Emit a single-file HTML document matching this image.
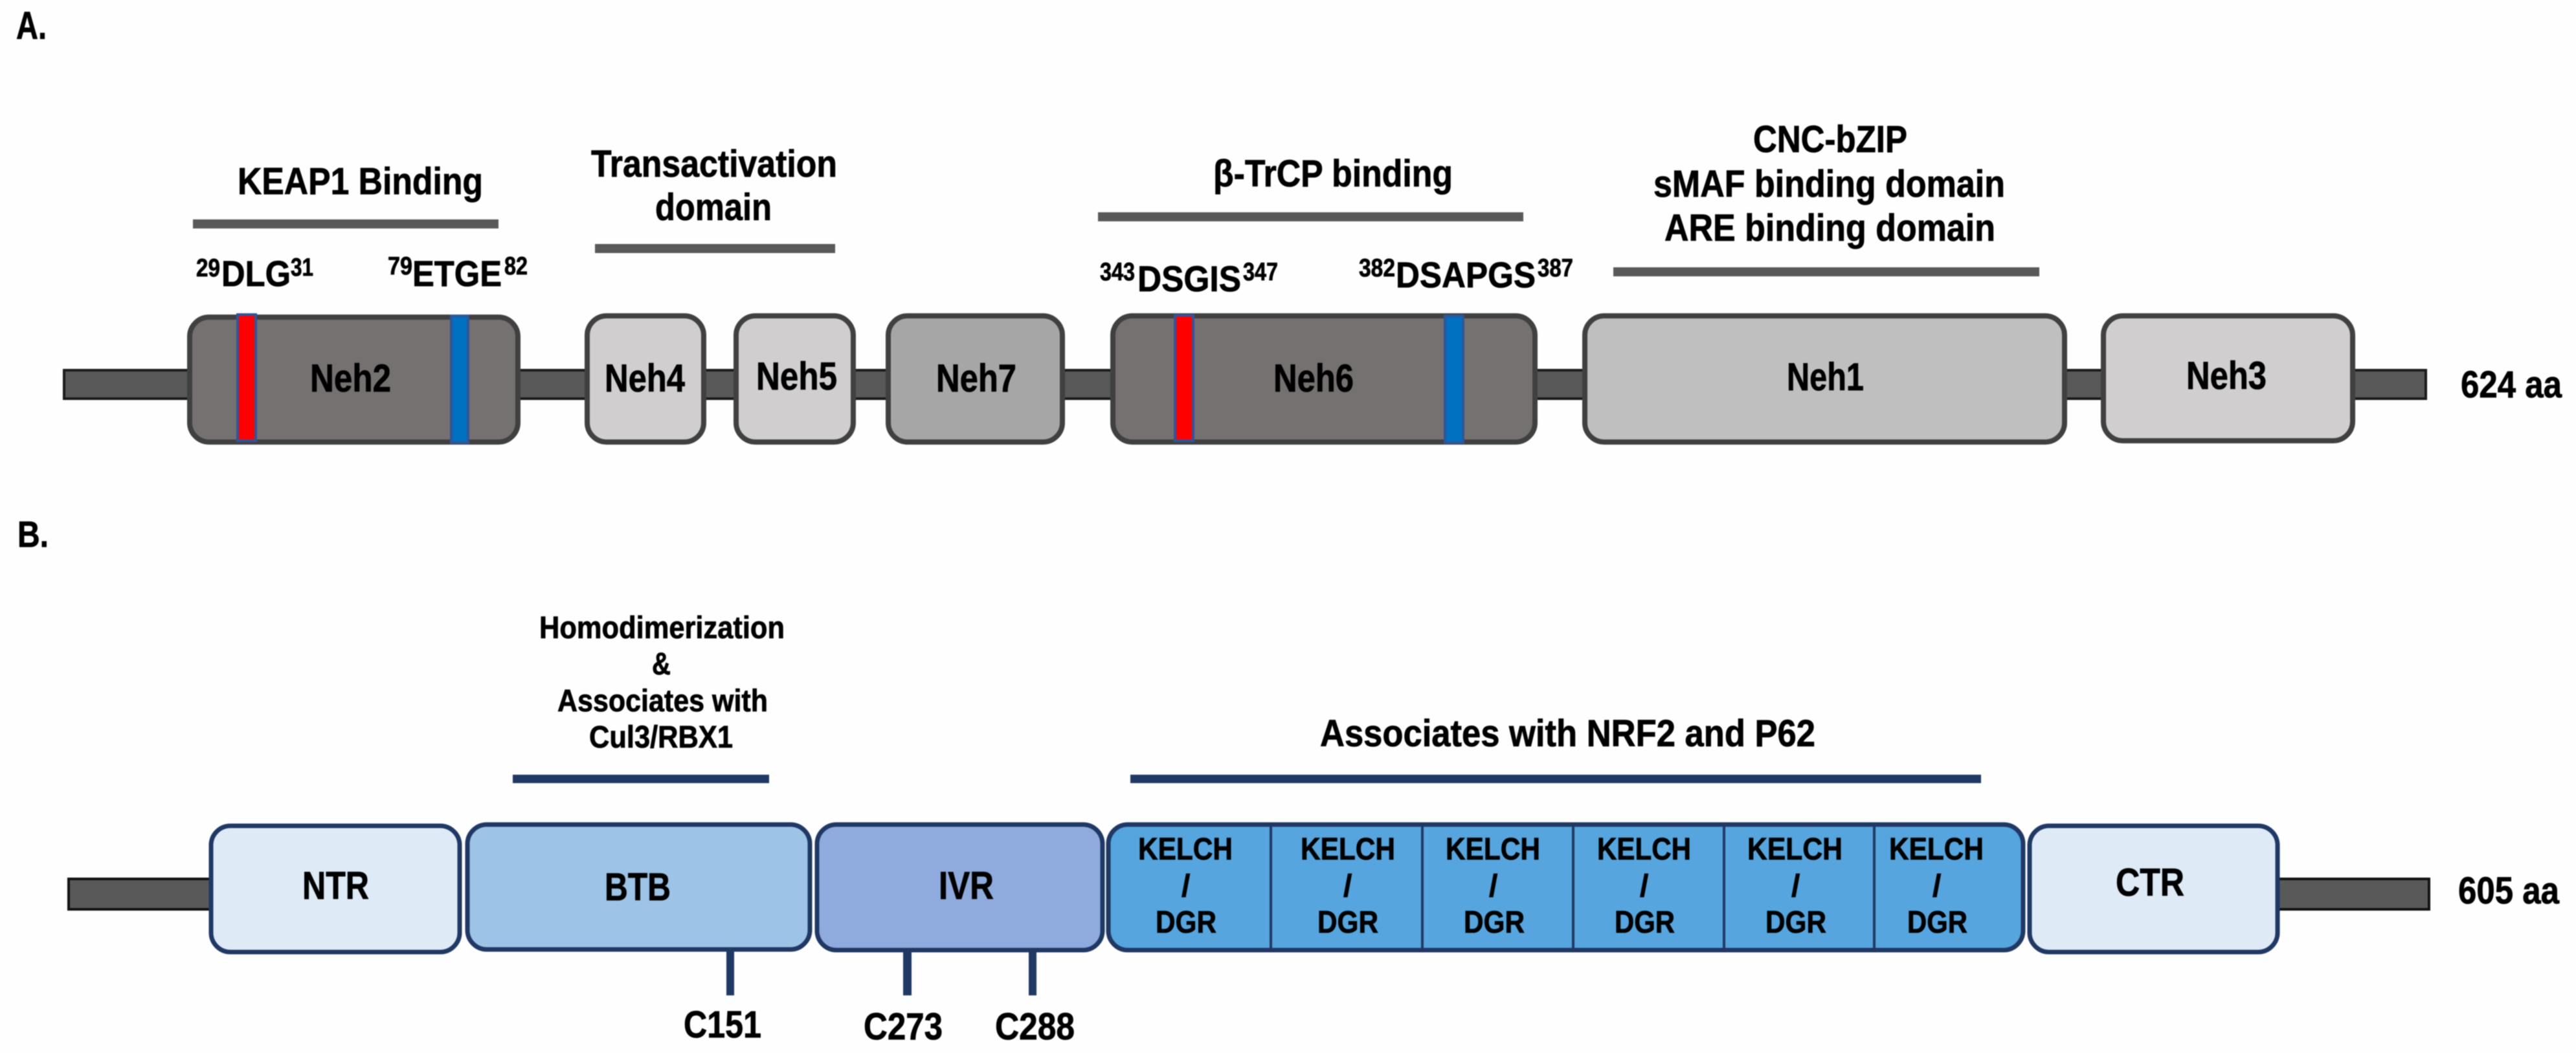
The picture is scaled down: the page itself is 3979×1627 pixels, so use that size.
<!DOCTYPE html>
<html lang="en">
<head>
<meta charset="utf-8">
<title>NRF2 and KEAP1 domains</title>
<style>
html,body{margin:0;padding:0;background:#fefefe;width:3979px;height:1627px;overflow:hidden}
svg{display:block;filter:blur(.8px)}
text{font-family:"Liberation Sans",Arial,sans-serif;font-weight:bold;fill:#000;stroke:#000;stroke-width:.8px}
.a{stroke:#404040;stroke-width:8}
.b{stroke:#203864;stroke-width:7}
.m{stroke:#2f5597;stroke-width:4}
</style>
</head>
<body>
<svg xmlns="http://www.w3.org/2000/svg" width="3979" height="1627" viewBox="0 0 3979 1627">
<rect width="3979" height="1627" fill="#fefefe"/>

<!-- Panel A -->
<text x="25" y="60" font-size="60" textLength="47" lengthAdjust="spacingAndGlyphs">A.</text>
<rect x="99" y="572" width="3648" height="44" fill="#595959" stroke="#1a1a1a" stroke-width="4"/>

<rect x="293" y="490" width="507" height="193" rx="30" fill="#767171" class="a"/>
<rect x="367" y="486" width="28" height="195" fill="#ff0000" class="m"/>
<rect x="697" y="488" width="26" height="196" fill="#0070c0" class="m"/>
<rect x="907" y="488" width="180" height="195" rx="30" fill="#d0cece" class="a"/>
<rect x="1137" y="488" width="181" height="195" rx="30" fill="#d0cece" class="a"/>
<rect x="1372" y="488" width="269" height="195" rx="30" fill="#a6a6a6" class="a"/>
<rect x="1719" y="488" width="652" height="195" rx="30" fill="#767171" class="a"/>
<rect x="1815" y="487" width="28" height="194" fill="#ff0000" class="m"/>
<rect x="2232" y="488" width="28" height="196" fill="#0070c0" class="m"/>
<rect x="2448" y="488" width="741" height="195" rx="30" fill="#bfbfbf" class="a"/>
<rect x="3249" y="488" width="385" height="193" rx="30" fill="#d0cece" class="a"/>

<text x="479" y="605" font-size="60" textLength="125" lengthAdjust="spacingAndGlyphs">Neh2</text>
<text x="934" y="605" font-size="60" textLength="124" lengthAdjust="spacingAndGlyphs">Neh4</text>
<text x="1168" y="602" font-size="60" textLength="125" lengthAdjust="spacingAndGlyphs">Neh5</text>
<text x="1446" y="605" font-size="60" textLength="124" lengthAdjust="spacingAndGlyphs">Neh7</text>
<text x="1967" y="605" font-size="60" textLength="124" lengthAdjust="spacingAndGlyphs">Neh6</text>
<text x="2760" y="603" font-size="60" textLength="119" lengthAdjust="spacingAndGlyphs">Neh1</text>
<text x="3377" y="601" font-size="60" textLength="124" lengthAdjust="spacingAndGlyphs">Neh3</text>
<text x="3801" y="614" font-size="58" textLength="156" lengthAdjust="spacingAndGlyphs">624 aa</text>

<text x="367" y="300" font-size="58" textLength="379" lengthAdjust="spacingAndGlyphs">KEAP1 Binding</text>
<rect x="298" y="339" width="472" height="14" fill="#595959"/>
<text x="913" y="273" font-size="58" textLength="380" lengthAdjust="spacingAndGlyphs">Transactivation</text>
<text x="1012" y="340" font-size="58" textLength="180" lengthAdjust="spacingAndGlyphs">domain</text>
<rect x="919" y="377" width="371" height="14" fill="#595959"/>

<text x="303" y="427" font-size="39" textLength="37" lengthAdjust="spacingAndGlyphs">29</text>
<text x="342" y="442" font-size="56" textLength="107" lengthAdjust="spacingAndGlyphs">DLG</text>
<text x="449" y="426" font-size="39" textLength="35" lengthAdjust="spacingAndGlyphs">31</text>
<text x="599" y="424" font-size="39" textLength="38" lengthAdjust="spacingAndGlyphs">79</text>
<text x="637" y="442" font-size="56" textLength="138" lengthAdjust="spacingAndGlyphs">ETGE</text>
<text x="779" y="424" font-size="39" textLength="36" lengthAdjust="spacingAndGlyphs">82</text>

<text x="1874" y="288" font-size="58" textLength="370" lengthAdjust="spacingAndGlyphs">β-TrCP binding</text>
<rect x="1696" y="328" width="657" height="14" fill="#595959"/>
<text x="1699" y="433" font-size="39" textLength="54" lengthAdjust="spacingAndGlyphs">343</text>
<text x="1757" y="450" font-size="56" textLength="160" lengthAdjust="spacingAndGlyphs">DSGIS</text>
<text x="1920" y="433" font-size="39" textLength="54" lengthAdjust="spacingAndGlyphs">347</text>
<text x="2099" y="427" font-size="39" textLength="56" lengthAdjust="spacingAndGlyphs">382</text>
<text x="2156" y="444" font-size="56" textLength="216" lengthAdjust="spacingAndGlyphs">DSAPGS</text>
<text x="2375" y="427" font-size="39" textLength="55" lengthAdjust="spacingAndGlyphs">387</text>

<text x="2708" y="235" font-size="58" textLength="238" lengthAdjust="spacingAndGlyphs">CNC-bZIP</text>
<text x="2554" y="304" font-size="58" textLength="543" lengthAdjust="spacingAndGlyphs">sMAF binding domain</text>
<text x="2571" y="372" font-size="58" textLength="511" lengthAdjust="spacingAndGlyphs">ARE binding domain</text>
<rect x="2492" y="413" width="658" height="14" fill="#595959"/>

<!-- Panel B -->
<text x="27" y="845" font-size="57" textLength="48" lengthAdjust="spacingAndGlyphs">B.</text>
<rect x="106" y="1358" width="225" height="47" fill="#595959" stroke="#111" stroke-width="4"/>
<rect x="3510" y="1358" width="242" height="47" fill="#595959" stroke="#111" stroke-width="4"/>

<rect x="1122" y="1466" width="12" height="72" fill="#203864"/>
<rect x="1395" y="1466" width="13" height="72" fill="#203864"/>
<rect x="1589" y="1466" width="12" height="72" fill="#203864"/>

<rect x="326" y="1276" width="384" height="195" rx="30" fill="#deebf7" class="b"/>
<rect x="722" y="1274" width="529" height="193" rx="30" fill="#9dc3e6" class="b"/>
<rect x="1262" y="1274" width="441" height="194" rx="30" fill="#8faadc" class="b"/>
<rect x="1712" y="1274" width="1413" height="194" rx="30" fill="#56a5de" class="b"/>
<rect x="3135" y="1276" width="383" height="195" rx="30" fill="#deebf7" class="b"/>
<g fill="#203864">
<rect x="1961" y="1274" width="4" height="194"/>
<rect x="2195" y="1274" width="4" height="194"/>
<rect x="2428" y="1274" width="4" height="194"/>
<rect x="2661" y="1274" width="4" height="194"/>
<rect x="2893" y="1274" width="4" height="194"/>
</g>

<text x="467" y="1389" font-size="60" textLength="103" lengthAdjust="spacingAndGlyphs">NTR</text>
<text x="934" y="1391" font-size="60" textLength="102" lengthAdjust="spacingAndGlyphs">BTB</text>
<text x="1450" y="1389" font-size="60" textLength="85" lengthAdjust="spacingAndGlyphs">IVR</text>
<text x="3268" y="1384" font-size="60" textLength="106" lengthAdjust="spacingAndGlyphs">CTR</text>
<text x="3797" y="1396" font-size="58" textLength="156" lengthAdjust="spacingAndGlyphs">605 aa</text>

<g>
<text x="1758" y="1328" font-size="48" textLength="146" lengthAdjust="spacingAndGlyphs">KELCH</text>
<text x="1825" y="1385" font-size="48">/</text>
<text x="1785" y="1441" font-size="48" textLength="94" lengthAdjust="spacingAndGlyphs">DGR</text>
<text x="2009" y="1328" font-size="48" textLength="146" lengthAdjust="spacingAndGlyphs">KELCH</text>
<text x="2075" y="1385" font-size="48">/</text>
<text x="2035" y="1441" font-size="48" textLength="94" lengthAdjust="spacingAndGlyphs">DGR</text>
<text x="2233" y="1328" font-size="48" textLength="146" lengthAdjust="spacingAndGlyphs">KELCH</text>
<text x="2300" y="1385" font-size="48">/</text>
<text x="2261" y="1441" font-size="48" textLength="94" lengthAdjust="spacingAndGlyphs">DGR</text>
<text x="2467" y="1328" font-size="48" textLength="145" lengthAdjust="spacingAndGlyphs">KELCH</text>
<text x="2533" y="1385" font-size="48">/</text>
<text x="2494" y="1441" font-size="48" textLength="93" lengthAdjust="spacingAndGlyphs">DGR</text>
<text x="2699" y="1328" font-size="48" textLength="147" lengthAdjust="spacingAndGlyphs">KELCH</text>
<text x="2767" y="1385" font-size="48">/</text>
<text x="2727" y="1441" font-size="48" textLength="94" lengthAdjust="spacingAndGlyphs">DGR</text>
<text x="2918" y="1328" font-size="48" textLength="146" lengthAdjust="spacingAndGlyphs">KELCH</text>
<text x="2985" y="1385" font-size="48">/</text>
<text x="2946" y="1441" font-size="48" textLength="93" lengthAdjust="spacingAndGlyphs">DGR</text>
</g>

<text x="2039" y="1153" font-size="58" textLength="765" lengthAdjust="spacingAndGlyphs">Associates with NRF2 and P62</text>
<rect x="1746" y="1197" width="1314" height="13" fill="#203864"/>
<text x="833" y="986" font-size="48" textLength="379" lengthAdjust="spacingAndGlyphs">Homodimerization</text>
<text x="1007" y="1042" font-size="48" textLength="29" lengthAdjust="spacingAndGlyphs">&amp;</text>
<text x="861" y="1099" font-size="48" textLength="325" lengthAdjust="spacingAndGlyphs">Associates with</text>
<text x="910" y="1155" font-size="48" textLength="222" lengthAdjust="spacingAndGlyphs">Cul3/RBX1</text>
<rect x="792" y="1197" width="396" height="13" fill="#203864"/>

<text x="1056" y="1603" font-size="58" textLength="120" lengthAdjust="spacingAndGlyphs">C151</text>
<text x="1334" y="1606" font-size="58" textLength="122" lengthAdjust="spacingAndGlyphs">C273</text>
<text x="1537" y="1606" font-size="58" textLength="123" lengthAdjust="spacingAndGlyphs">C288</text>
</svg>
</body>
</html>
